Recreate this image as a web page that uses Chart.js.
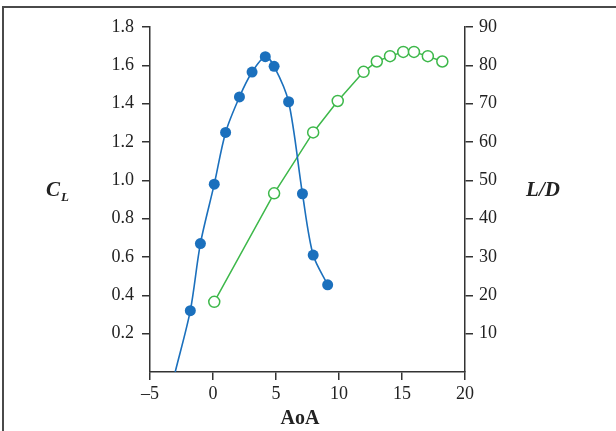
<!DOCTYPE html>
<html>
<head>
<meta charset="utf-8">
<script src="https://cdn.jsdelivr.net/npm/chart.js@4"></script>
<style>
  html, body { margin: 0; padding: 0; background: #fff; }
  #wrap { position: relative; width: 616px; height: 431px; }
</style>
</head>
<body>
<div id="wrap"><canvas id="chart" width="616" height="431"></canvas></div>
<script>
// lift coefficient vs angle of attack
const aoaCl = [-3.0, -1.8, -1.0, 0.1, 1.0, 2.1, 3.1, 4.15, 4.85, 6.0, 7.1, 7.95, 9.1];
const clValues = [0, 0.32, 0.67, 0.98, 1.25, 1.435, 1.565, 1.645, 1.595, 1.41, 0.93, 0.61, 0.455];

// lift/drag ratio vs angle of attack
const aoaLd = [0.1, 4.85, 7.95, 9.9, 11.95, 13.0, 14.05, 15.1, 15.95, 17.05, 18.2];
const ldValues = [18.3, 46.6, 62.5, 70.7, 78.3, 81.0, 82.4, 83.5, 83.5, 82.4, 81.0];

const xTicks = [-5, 0, 5, 10, 15, 20];

const serif = '"Liberation Serif", "DejaVu Serif", serif';
const axisColor = '#333';

const toPoints = (xs, ys) => xs.map((x, i) => ({ x: x, y: ys[i] }));

// frame + the two unrotated side titles
const extras = {
  id: 'extras',
  afterDraw(chart) {
    const c = chart.ctx;
    c.save();
    c.strokeStyle = '#4a4a4a';
    c.lineWidth = 2;
    c.beginPath();
    c.moveTo(3, 431);
    c.lineTo(3, 7);
    c.lineTo(616, 7);
    c.stroke();

    c.fillStyle = '#222';
    c.textBaseline = 'alphabetic';
    c.font = 'italic bold 21px ' + serif;
    c.textAlign = 'left';
    c.fillText('C', 46, 196);
    c.font = 'italic bold 13px ' + serif;
    c.fillText('L', 61, 201);

    c.font = 'italic bold 21px ' + serif;
    c.textAlign = 'center';
    c.fillText('L/D', 543, 196);
    c.restore();
  }
};

new Chart(document.getElementById('chart'), {
  type: 'scatter',
  data: {
    datasets: [
      {
        label: 'CL',
        data: toPoints(aoaCl, clValues),
        yAxisID: 'yCl',
        showLine: true,
        borderColor: '#1b70bd',
        backgroundColor: '#1b70bd',
        borderWidth: 1.6,
        tension: 0.3,
        pointRadius: ctx => ctx.dataIndex === 0 ? 0 : 5.5,
        pointHoverRadius: 5.5,
        pointBorderWidth: 0,
        clip: 0
      },
      {
        label: 'L/D',
        data: toPoints(aoaLd, ldValues),
        yAxisID: 'yLd',
        showLine: true,
        borderColor: '#3db84a',
        backgroundColor: '#ffffff',
        borderWidth: 1.5,
        tension: 0,
        pointRadius: 5.5,
        pointBorderWidth: 1.5,
        pointBackgroundColor: '#ffffff',
        pointBorderColor: '#3db84a'
      }
    ]
  },
  options: {
    responsive: false,
    animation: false,
    layout: { padding: { top: 27, left: 0, right: 0, bottom: 0 } },
    plugins: {
      legend: { display: false },
      tooltip: { enabled: false }
    },
    scales: {
      x: {
        type: 'linear',
        min: -5,
        max: 20,
        afterBuildTicks: scale => { scale.ticks = xTicks.map(v => ({ value: v })); },
        afterFit: scale => { scale.height = 59; },
        grid: { drawOnChartArea: false, drawTicks: true, tickLength: 8, color: axisColor, lineWidth: 1.5 },
        border: { color: axisColor, width: 1.5 },
        ticks: {
          padding: 3,
          color: '#222',
          font: { family: serif, size: 18 },
          callback: v => String(v).replace('-', '\u2013')
        },
        title: {
          display: true,
          text: 'AoA\u00a0\u00a0\u00a0',
          color: '#222',
          padding: { top: 0, bottom: 0 },
          font: { family: serif, size: 20, weight: 'bold' }
        }
      },
      yCl: {
        type: 'linear',
        position: 'left',
        min: 0,
        max: 1.8,
        afterFit: scale => { scale.width = 150; },
        grid: { drawOnChartArea: false, drawTicks: true, tickLength: 8, color: axisColor, lineWidth: 1.5 },
        border: { color: axisColor, width: 1.5 },
        ticks: {
          stepSize: 0.2,
          padding: 8,
          color: '#222',
          font: { family: serif, size: 18 },
          callback: v => Math.abs(v) < 1e-6 ? null : v.toFixed(1)
        }
      },
      yLd: {
        type: 'linear',
        position: 'right',
        min: 0,
        max: 90,
        afterFit: scale => { scale.width = 151; },
        grid: { drawOnChartArea: false, drawTicks: true, tickLength: 8, color: axisColor, lineWidth: 1.5 },
        border: { color: axisColor, width: 1.5 },
        ticks: {
          stepSize: 10,
          padding: 6,
          color: '#222',
          font: { family: serif, size: 18 },
          callback: v => v === 0 ? null : String(v)
        }
      }
    }
  },
  plugins: [extras]
});
</script>
</body>
</html>
